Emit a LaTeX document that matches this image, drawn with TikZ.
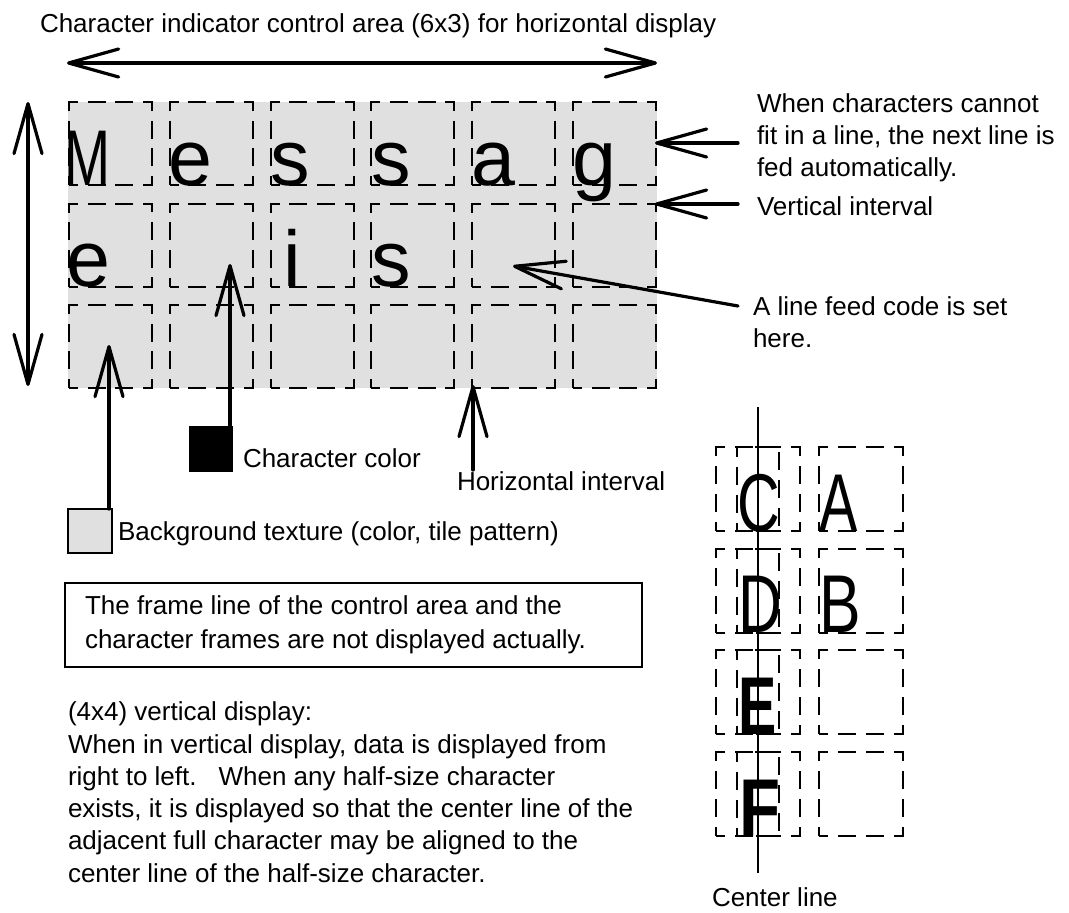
\documentclass[tikz,border=0pt]{standalone}
\usepackage{fontspec}
\setmainfont{Liberation Sans}
\usetikzlibrary{arrows.meta,calc}
\definecolor{bggray}{RGB}{224,224,224}
\tikzset{
  cell/.style={draw, line width=2pt, dash pattern=on 18pt off 9.67pt, dash phase=9pt,
    minimum width=83pt, minimum height=83pt, inner sep=0pt, outer sep=0pt},
  vcell/.style={cell, dash pattern=on 18pt off 10pt, minimum width=84pt, minimum height=84pt},
  hcell/.style={cell, dash pattern=on 18pt off 10pt, minimum width=41.5pt, minimum height=84pt},
  txt/.style={anchor=base west, inner sep=0pt, outer sep=0pt, font=\fontsize{26}{32}\selectfont},
  bigl/.style={anchor=base, inner sep=0pt, outer sep=0pt, font=\fontsize{79}{79}\selectfont},
  bigv/.style={anchor=base, inner sep=0pt, outer sep=0pt, font=\fontsize{82}{82}\selectfont},
  arr/.style={line width=3.2pt, line cap=round, -{Straight Barb[length=50pt,width=28pt,round]}},
  darr/.style={line width=3.2pt, line cap=round, {Straight Barb[length=50pt,width=28pt,round]}-{Straight Barb[length=50pt,width=28pt,round]}},
}
\begin{document}
\begin{tikzpicture}[x=1pt,y=-1pt]
\useasboundingbox (0,0) rectangle (1069,913);

% title and span arrows
\node[txt] (title) at (40,32) {Character indicator control area (6x3) for horizontal display};
\coordinate (hL) at (67,63);
\coordinate (hR) at (657,63);
\draw[darr] (hL) -- (hR);
\coordinate (vT) at (28,102);
\coordinate (vB) at (28,386);
\draw[darr] (vT) -- (vB);

% control area
\fill[bggray] (68,102) rectangle (657,388);
\foreach \j in {0,1,2}
  \foreach \i in {0,...,5}
    \node[cell] (c\i\j) at ({110.5+100.8*\i},{143.5+101.5*\j}) {};

% characters
\node[bigl] (l1) at (88,185) {\scalebox{0.7}[1]{M}};
\node[bigl] (l2) at (190,185) {e};
\node[bigl] (l3) at (290.5,185) {s};
\node[bigl] (l4) at (391,185) {s};
\node[bigl] (l5) at (493,185) {a};
\node[bigl] (l6) at (594.5,185) {g};
\node[bigl] (l7) at (88.5,286.5) {e};
\node[bigl] (l8) at (292,286.5) {i};
\node[bigl] (l9) at (391,286.5) {s};

% right annotations
\node[txt] (w1) at (757,112) {When characters cannot};
\node[txt] (w2) at (757,144) {fit in a line, the next line is};
\node[txt] (w3) at (757,176) {fed automatically.};
\coordinate (a1s) at (738,143);
\coordinate (a1t) at (655,143);
\draw[arr] (a1s) -- (a1t);
\node[txt] (vi) at (757,215) {Vertical interval};
\coordinate (a2s) at (738,204);
\coordinate (a2t) at (655,204);
\draw[arr] (a2s) -- (a2t);
\node[txt] (lf1) at (753,315) {A line feed code is set};
\node[txt] (lf2) at (753,347) {here.};
\coordinate (a3s) at (738,306);
\coordinate (a3t) at (513,266);
\draw[arr] (a3s) -- (a3t);

% character colour
\node[fill=black, minimum width=44pt, minimum height=46pt, inner sep=0pt, outer sep=0pt] (ccol) at (211,449) {};
\node[txt] (cctxt) at (243,467) {Character color};
\coordinate (tipCC) at (230,264);
\draw[arr] ($(ccol.north east)+(-3,0)$) -- (tipCC);

% horizontal interval
\node[txt] (hitxt) at (457,490) {Horizontal interval};
\coordinate (hiS) at (473,470);
\coordinate (tipHI) at (473,385);
\draw[arr] (hiS) -- (tipHI);

% background texture
\node[draw, line width=1.5pt, fill=bggray, minimum width=44pt, minimum height=44pt, inner sep=0pt, outer sep=0pt] (bgsq) at (90,531) {};
\node[txt] (bgtxt) at (118,540) {Background texture (color, tile pattern)};
\coordinate (tipBG) at (109,345);
\draw[arr] ($(bgsq.north east)+(-3,0)$) -- (tipBG);

% note box
\draw[line width=2pt] (65,583) rectangle (642,667);
\node[txt] (n1) at (85,614) {The frame line of the control area and the};
\node[txt] (n2) at (85,648) {character frames are not displayed actually.};

% vertical display text
\node[txt] (b1) at (68,720) {(4x4) vertical display:};
\node[txt] (b2) at (68,753) {When in vertical display, data is displayed from};
\node[txt] (b3) at (68,785) {right to left.\hspace{22pt}When any half-size character};
\node[txt] (b4) at (68,817) {exists, it is displayed so that the center line of the};
\node[txt] (b5) at (68,849) {adjacent full character may be aligned to the};
\node[txt] (b6) at (68,882) {center line of the half-size character.};

% vertical display grid
\foreach \k in {0,...,3} {
  \node[vcell] (vo\k) at (758,{489+101.7*\k}) {};
  \node[hcell] (vh\k) at (758,{489+101.7*\k}) {};
  \node[vcell] (vr\k) at (861,{489+101.7*\k}) {};
}
\node[bigv] (vC) at (758.5,531) {\scalebox{0.72}[1]{C}};
\node[bigv] (vA) at (839,531) {\scalebox{0.7}[1]{A}};
\node[bigv] (vD) at (760,632.7) {\scalebox{0.74}[1]{D}};
\node[bigv] (vB) at (840,632.7) {\scalebox{0.76}[1]{B}};
\node[bigv] (vE) at (757.5,734.4) {\scalebox{0.7}[1]{\bfseries E}};
\node[bigv] (vF) at (760,836.1) {\scalebox{0.82}[1]{\bfseries F}};

% centre line
\coordinate (clT) at (758,407);
\coordinate (clB) at (758,873);
\draw[line width=1.4pt] (clT) -- (clB);
\node[txt] (cltxt) at (712,906) {Center line};
\end{tikzpicture}
\end{document}
